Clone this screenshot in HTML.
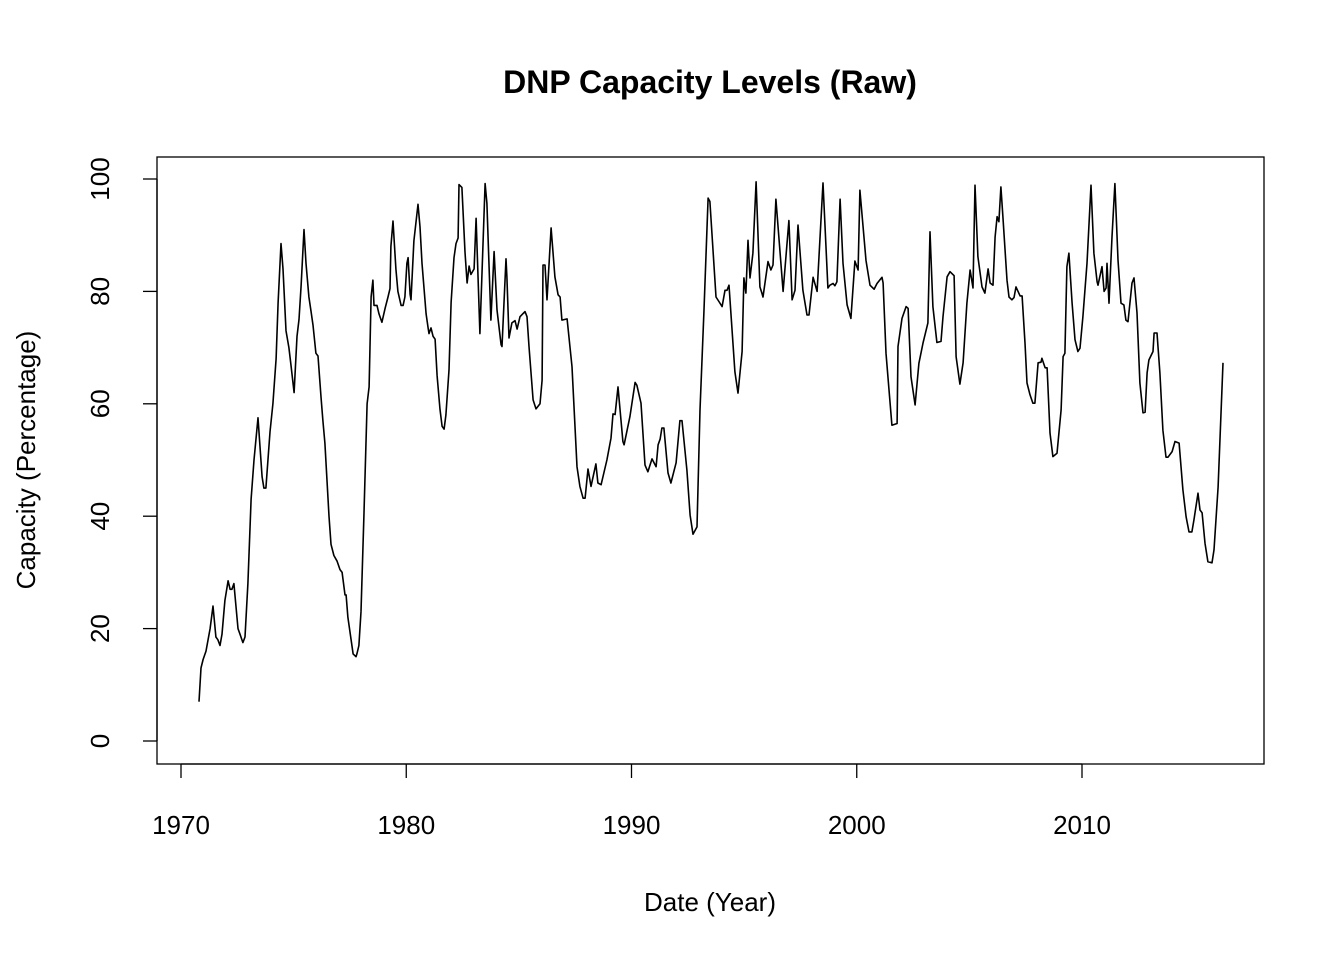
<!DOCTYPE html>
<html><head><meta charset="utf-8"><style>
body{margin:0;background:#fff;}
svg{display:block;font-family:"Liberation Sans",Arial,sans-serif;}
</style></head><body>
<svg id="chart" width="1344" height="960" viewBox="0 0 1344 960">
<rect width="1344" height="960" fill="#fff"/>
<text x="710" y="93" text-anchor="middle" font-size="32" font-weight="bold">DNP Capacity Levels (Raw)</text>
<rect x="157" y="157" width="1107" height="607" fill="none" stroke="#000" stroke-width="1.3"/>
<text x="710" y="911" text-anchor="middle" font-size="26">Date (Year)</text>
<text transform="translate(35,460) rotate(-90)" text-anchor="middle" font-size="26">Capacity (Percentage)</text>
<g id="xaxis"></g>
<g id="yaxis"></g>
<path id="series" fill="none" stroke="#000" stroke-width="1.6" stroke-linejoin="round"/>
</svg>
<script>
const xTicks=[1970,1980,1990,2000,2010];
const yTicks=[0,20,40,60,80,100];
const dates=[1970.80,1970.89,1970.98,1971.11,1971.29,1971.42,1971.55,1971.64,1971.73,1971.82,1971.95,1972.09,1972.18,1972.26,1972.35,1972.53,1972.62,1972.75,1972.84,1972.97,1973.11,1973.24,1973.42,1973.60,1973.68,1973.77,1973.95,1974.08,1974.22,1974.31,1974.44,1974.53,1974.66,1974.79,1974.88,1975.02,1975.15,1975.24,1975.33,1975.46,1975.55,1975.68,1975.77,1975.86,1975.99,1976.08,1976.22,1976.30,1976.39,1976.57,1976.66,1976.79,1976.93,1977.06,1977.15,1977.28,1977.33,1977.41,1977.55,1977.64,1977.77,1977.81,1977.90,1977.99,1978.12,1978.26,1978.35,1978.44,1978.52,1978.57,1978.70,1978.79,1978.92,1979.06,1979.19,1979.28,1979.32,1979.41,1979.54,1979.63,1979.77,1979.86,1979.94,1980.03,1980.08,1980.17,1980.21,1980.34,1980.52,1980.61,1980.70,1980.88,1980.97,1981.01,1981.10,1981.19,1981.28,1981.37,1981.50,1981.59,1981.68,1981.76,1981.90,1981.99,1982.12,1982.21,1982.30,1982.34,1982.47,1982.61,1982.70,1982.79,1982.87,1983.01,1983.10,
1983.27,1983.50,1983.58,1983.76,1983.90,1984.03,1984.21,1984.25,1984.43,1984.47,1984.56,1984.69,1984.83,1984.92,1985.05,1985.27,1985.36,1985.45,1985.63,1985.76,1985.94,1986.03,1986.07,1986.16,1986.25,1986.43,1986.60,1986.74,1986.83,1986.91,1987.14,1987.36,1987.58,1987.71,1987.85,1987.94,1988.07,1988.20,1988.42,1988.51,1988.65,1988.91,1989.09,1989.18,1989.27,1989.40,1989.62,1989.67,1989.93,1990.16,1990.24,1990.42,1990.60,1990.73,1990.91,1991.09,1991.18,1991.27,1991.35,1991.44,1991.62,1991.75,1991.98,1992.15,1992.24,1992.46,1992.60,1992.73,1992.91,1993.04,1993.22,1993.40,1993.48,1993.75,1993.88,1994.02,1994.15,1994.24,1994.33,1994.59,1994.73,1994.91,1994.99,1995.08,1995.17,1995.26,1995.39,1995.53,1995.70,
1995.79,1995.84,1996.06,1996.19,1996.28,1996.41,1996.73,1996.99,1997.13,1997.26,1997.39,1997.61,1997.79,1997.88,1998.06,1998.24,1998.50,1998.72,1998.81,1998.95,1999.03,1999.12,1999.26,1999.39,1999.57,1999.74,1999.92,2000.06,2000.14,2000.41,2000.59,2000.77,2000.90,2001.12,2001.17,2001.30,2001.56,2001.79,2001.83,2002.01,2002.19,2002.28,2002.41,2002.59,2002.76,2002.94,2003.16,2003.25,2003.38,2003.56,2003.74,2003.83,2004.01,2004.14,2004.32,2004.41,2004.58,2004.72,2004.89,2005.03,2005.16,2005.25,2005.38,2005.56,2005.69,2005.83,2005.92,2006.05,2006.14,2006.23,2006.31,2006.40,2006.49,2006.67,2006.76,2006.89,2006.98,2007.07,2007.25,2007.34,2007.47,2007.56,2007.69,2007.82,2007.91,2008.05,2008.18,2008.22,2008.36,2008.45,2008.58,2008.71,2008.89,2009.07,2009.16,2009.24,2009.33,2009.42,2009.56,2009.69,2009.82,2009.91,2010.04,2010.22,2010.40,2010.53,2010.67,2010.71,2010.89,2010.98,2011.07,2011.11,2011.20,2011.33,2011.46,2011.60,2011.73,2011.86,2011.95,2012.04,2012.22,2012.31,2012.44,2012.57,2012.71,2012.80,2012.89,2012.97,2013.15,2013.20,2013.33,2013.46,2013.59,2013.73,2013.82,2014.00,2014.13,2014.31,2014.48,2014.62,2014.75,2014.88,2014.97,2015.15,2015.24,2015.33,2015.46,2015.59,2015.77,2015.86,2016.04,2016.26];
const capacity=[7,13,14.5,16,20,24,18.5,18,17,19,25,28.5,27,27,28,20,19,17.5,18.5,28,43,50,57.5,47,45,45,55,60,68,78,88.5,84,73,70,67,62,72,75,81,91,85,79,76.5,74,69,68.5,61,57,53,40,35,33,32,30.5,30,26,26,22,18,15.5,15,15.5,17,23,40,60,63,79,82,77.5,77.5,76,74.5,77,79,80.5,88,92.5,84,80,77.5,77.5,79,85,86,79.5,78.5,89,95.5,91.5,85,76,73.5,72.5,73.5,72,71.5,65,59,56,55.5,58,66,78,86,88.5,89.5,99,98.5,87,81.5,84.5,83,84,93,
72.5,99.2,95.7,74.9,87.1,76.7,70.5,70.2,85.8,82.6,71.7,74.4,74.8,73.3,75.5,76.4,75.5,70.2,60.7,59.1,60,64.2,84.7,84.7,78.5,91.3,82.6,79.4,79,74.9,75.1,66.6,48.8,45.3,43.2,43.2,48.4,45.3,49.3,45.9,45.6,50,53.9,58.2,58.1,63,53.3,52.7,57.7,63.8,63.3,60.1,49.1,47.9,50.2,48.8,52.7,53.7,55.7,55.7,47.7,45.9,49.5,57,57,48.2,40.2,36.8,38.1,58.9,76.7,96.6,96,79,78.2,77.3,80.2,80.2,81.1,65.7,61.9,69.3,82.4,79.7,89.1,82.4,86.8,99.5,80.8,
79.7,79,85.3,83.8,84.7,96.4,80,92.6,78.5,80.2,91.8,80.2,75.8,75.8,82.5,80,99.3,80.6,81.1,81.4,81,81.7,96.4,85,77.6,75.2,85.4,83.8,98,85.5,81.1,80.4,81.4,82.5,81.5,69,56.2,56.5,70.2,75.2,77.3,77,64.8,59.8,67.2,70.8,74.4,90.6,77.3,70.9,71.1,75.5,82.6,83.5,82.8,68.4,63.5,67.3,77.9,83.8,80.6,98.9,86.2,80.8,79.7,84,81.5,81.1,89.7,93.3,92.4,98.6,93.3,82,79,78.5,78.9,80.8,79.2,79.2,70.8,63.7,61.6,60.1,60.1,67.3,67.4,68.1,66.4,66.4,54.8,50.6,51.2,58.9,68.4,69,84.4,86.8,77.9,71.4,69.3,69.9,75.5,85,98.9,86.8,81.7,81.1,84.4,80,80.6,85,77.9,89.7,99.2,85.6,77.9,77.6,74.9,74.6,81.5,82.4,76.2,63.7,58.4,58.5,65.5,67.8,69.3,72.6,72.6,65.5,55.3,50.5,50.5,51.5,53.3,53,44.7,39.9,37.2,37.2,39.3,44.1,41.1,40.6,35.2,31.9,31.7,34,45.2,67.3];

const X=v=>181+(v-1970)*(901/40);
const Y=v=>741-v*5.62;
const NS="http://www.w3.org/2000/svg";
function mk(tag,attrs,parent){const e=document.createElementNS(NS,tag);for(const k in attrs)e.setAttribute(k,attrs[k]);parent.appendChild(e);return e;}
const xg=document.getElementById('xaxis'), yg=document.getElementById('yaxis');
const xl=mk('line',{x1:X(xTicks[0]),x2:X(xTicks[xTicks.length-1]),y1:764,y2:764,stroke:'#000','stroke-width':1.3},xg);


xTicks.forEach(t=>{
  const l=mk('line',{x1:X(t),x2:X(t),y1:764,y2:778,stroke:'#000','stroke-width':1.3},xg);
  
  
  const tx=mk('text',{x:X(t),y:834,'text-anchor':'middle','font-size':26},xg);
  tx.textContent=t;
  
  
});
const yl=mk('line',{x1:157,x2:157,y1:Y(yTicks[0]),y2:Y(yTicks[yTicks.length-1]),stroke:'#000','stroke-width':1.3},yg);


yTicks.forEach(t=>{
  const l=mk('line',{x1:143,x2:157,y1:Y(t),y2:Y(t),stroke:'#000','stroke-width':1.3},yg);
  
  
  const tx=mk('text',{transform:`translate(109,${Y(t)}) rotate(-90)`,'text-anchor':'middle','font-size':26},yg);
  tx.textContent=t;
  
  
});
let d='';
dates.forEach((t,i)=>{d+=(i?'L':'M')+X(t).toFixed(1)+','+Y(capacity[i]).toFixed(1);});
document.getElementById('series').setAttribute('d',d);
</script>
</body></html>
